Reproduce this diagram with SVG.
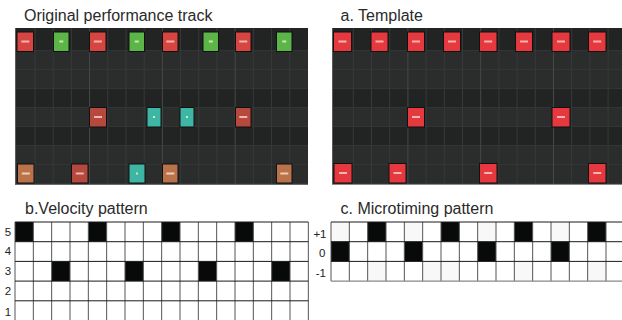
<svg xmlns="http://www.w3.org/2000/svg" width="622" height="320" viewBox="0 0 622 320">
<style>
.title{font-family:"Liberation Sans",Arial,sans-serif;font-size:16px;fill:#2a2a2a}
.lab{font-family:"Liberation Sans",Arial,sans-serif;font-size:11.5px;fill:#222}
.bg{fill:#2b2c2c}
.band{fill:#222323}
.vl{stroke:#38393a;stroke-width:1;fill:none}
.vl4{stroke:#474848;stroke-width:1;fill:none}
.hl{stroke:#333435;stroke-width:1;fill:none}
.n{stroke:#111;stroke-width:1}
.red{fill:#d64541}
.grn{fill:#5bb549}
.brn{fill:#b5493e}
.tea{fill:#3db6a6}
.org{fill:#b9724a}
.tr{fill:#e6393f}
.d1{fill:#f2b5ad}
.d2{fill:#f4cdb2}
.d3{fill:#cfe8a6}
.gh{stroke:#1a1a1a;stroke-width:1;fill:none}
.gv{stroke:#555;stroke-width:1;fill:none}
.blk{fill:#080909}
.fa{fill:#f8f8f8}
</style>
<rect width="622" height="320" fill="#fff"/>

<text class="title" x="24" y="20.5">Original performance track</text>
<text class="title" x="340.5" y="20.5">a. Template</text>
<text class="title" x="25" y="214">b.Velocity pattern</text>
<text class="title" x="340.5" y="214">c. Microtiming pattern</text>

<!-- Original performance track panel -->
<g id="original">
<rect class="bg" x="15" y="28" width="293" height="157"/>
<rect class="band" x="15" y="28" width="293" height="22"/>
<rect class="band" x="15" y="88" width="293" height="19"/>
<rect class="band" x="15" y="126" width="293" height="19"/>
<path class="hl" d="M15 50.5H308M15 69.5H308M15 88.5H308M15 107.5H308M15 126.5H308M15 145.5H308M15 164.5H308M15 183.5H308"/>
<path class="vl" d="M35 28V185M53.2 28V185M71.4 28V185M107.8 28V185M126 28V185M144.2 28V185M180.6 28V185M198.8 28V185M217 28V185M253.4 28V185M271.6 28V185M289.8 28V185"/>
<path class="vl4" d="M89.6 28V185M162.4 28V185M235.2 28V185"/>
<path d="M15.5 28V185" stroke="#5a5b5b" stroke-width="1"/>
<path d="M15 184.5H308" stroke="#6a6a6a" stroke-width="1"/>
<!-- row 0 -->
<rect class="n red" x="17" y="32" width="16.5" height="19.5"/><rect class="d1" x="21.3" y="40.5" width="8" height="2"/>
<rect class="n grn" x="53.5" y="32" width="15.5" height="19.5"/><rect class="d3" x="59.3" y="40.5" width="4" height="2"/>
<rect class="n red" x="89.5" y="32" width="16.5" height="19.5"/><rect class="d1" x="93.8" y="40.5" width="8" height="2"/>
<rect class="n grn" x="129" y="32" width="15.5" height="19.5"/><rect class="d3" x="134.8" y="40.5" width="4" height="2"/>
<rect class="n red" x="162.5" y="32" width="15.5" height="19.5"/><rect class="d1" x="166.3" y="40.5" width="8" height="2"/>
<rect class="n grn" x="203" y="32" width="15.5" height="19.5"/><rect class="d3" x="208.8" y="40.5" width="4" height="2"/>
<rect class="n red" x="235.5" y="32" width="15.5" height="19.5"/><rect class="d1" x="239.3" y="40.5" width="8" height="2"/>
<rect class="n grn" x="276.5" y="32" width="15.5" height="19.5"/><rect class="d3" x="282.3" y="40.5" width="4" height="2"/>
<!-- row 4 -->
<rect class="n brn" x="89.5" y="107.5" width="17" height="19.5"/><rect class="d1" x="94" y="116" width="8" height="2"/>
<rect class="n tea" x="147" y="107.5" width="14" height="19.5"/><rect class="d3" x="153" y="116" width="2" height="2"/>
<rect class="n tea" x="180" y="107.5" width="14" height="19.5"/><rect class="d3" x="186" y="116" width="2" height="2"/>
<rect class="n brn" x="235.5" y="107.5" width="15.5" height="19.5"/><rect class="d1" x="239.3" y="116" width="8" height="2"/>
<!-- row 7 -->
<rect class="n org" x="17.5" y="164" width="16.5" height="19"/><rect class="d2" x="21.8" y="172.5" width="8" height="2"/>
<rect class="n brn" x="71.5" y="164" width="16.5" height="19"/><rect class="d1" x="75.8" y="172.5" width="8" height="2"/>
<rect class="n tea" x="129" y="164" width="16" height="19"/><rect class="d3" x="136" y="172.5" width="2" height="2"/>
<rect class="n org" x="162.5" y="164" width="15.5" height="19"/><rect class="d2" x="166.3" y="172.5" width="8" height="2"/>
<rect class="n org" x="276.5" y="164" width="15.5" height="19"/><rect class="d2" x="280.3" y="172.5" width="8" height="2"/>
</g>

<!-- Template panel -->
<g id="template">
<rect class="bg" x="332" y="28" width="290" height="157"/>
<rect class="band" x="332" y="28" width="290" height="22"/>
<rect class="band" x="332" y="88" width="290" height="19"/>
<rect class="band" x="332" y="126" width="290" height="19"/>
<path class="hl" d="M332 50.5H622M332 69.5H622M332 88.5H622M332 107.5H622M332 126.5H622M332 145.5H622M332 164.5H622M332 183.5H622"/>
<path class="vl" d="M353.3 28V185M371.5 28V185M389.7 28V185M426.1 28V185M444.3 28V185M462.5 28V185M498.9 28V185M517.1 28V185M535.3 28V185M571.7 28V185M589.9 28V185M608.1 28V185"/>
<path class="vl4" d="M407.9 28V185M480.7 28V185M553.5 28V185"/>
<path d="M332.5 28V185" stroke="#5a5b5b" stroke-width="1"/>
<path d="M332 184.5H622" stroke="#8a8a8a" stroke-width="1"/>
<!-- row 0 -->
<rect class="n tr" x="333.5" y="32" width="18" height="19.5"/><rect class="d1" x="338.5" y="40.5" width="8" height="2"/>
<rect class="n tr" x="371" y="32" width="17" height="19.5"/><rect class="d1" x="375.5" y="40.5" width="8" height="2"/>
<rect class="n tr" x="407.5" y="32" width="17" height="19.5"/><rect class="d1" x="412" y="40.5" width="8" height="2"/>
<rect class="n tr" x="443.5" y="32" width="17" height="19.5"/><rect class="d1" x="448" y="40.5" width="8" height="2"/>
<rect class="n tr" x="479.5" y="32" width="17.5" height="19.5"/><rect class="d1" x="484.2" y="40.5" width="8" height="2"/>
<rect class="n tr" x="515.5" y="32" width="17" height="19.5"/><rect class="d1" x="520" y="40.5" width="8" height="2"/>
<rect class="n tr" x="552" y="32" width="18" height="19.5"/><rect class="d1" x="557" y="40.5" width="8" height="2"/>
<rect class="n tr" x="588.5" y="32" width="17.5" height="19.5"/><rect class="d1" x="593.2" y="40.5" width="8" height="2"/>
<!-- row 4 -->
<rect class="n tr" x="407.5" y="107.5" width="17" height="19.5"/><rect class="d1" x="412" y="116" width="8" height="2"/>
<rect class="n tr" x="552" y="107.5" width="18" height="19.5"/><rect class="d1" x="557" y="116" width="8" height="2"/>
<!-- row 7 -->
<rect class="n tr" x="334" y="163.5" width="18" height="19.5"/><rect class="d1" x="339" y="172" width="8" height="2"/>
<rect class="n tr" x="389" y="163.5" width="17" height="19.5"/><rect class="d1" x="393.5" y="172" width="8" height="2"/>
<rect class="n tr" x="479.5" y="163.5" width="17.5" height="19.5"/><rect class="d1" x="484.2" y="172" width="8" height="2"/>
<rect class="n tr" x="588.5" y="163.5" width="17.5" height="19.5"/><rect class="d1" x="593.2" y="172" width="8" height="2"/>
</g>

<!-- Velocity pattern grid -->
<g id="velocity">
<rect class="blk" x="15" y="222" width="18.33" height="19.7"/>
<rect class="blk" x="88.33" y="222" width="18.33" height="19.7"/>
<rect class="blk" x="161.67" y="222" width="18.33" height="19.7"/>
<rect class="blk" x="235" y="222" width="18.33" height="19.7"/>
<rect class="blk" x="51.67" y="261.4" width="18.33" height="19.7"/>
<rect class="blk" x="125" y="261.4" width="18.33" height="19.7"/>
<rect class="blk" x="198.33" y="261.4" width="18.33" height="19.7"/>
<rect class="blk" x="271.67" y="261.4" width="18.33" height="19.7"/>
<path class="gv" d="M15 222V320M33.33 222V320M51.67 222V320M70 222V320M88.33 222V320M106.67 222V320M125 222V320M143.33 222V320M161.67 222V320M180 222V320M198.33 222V320M216.67 222V320M235 222V320M253.33 222V320M271.67 222V320M290 222V320M308.33 222V320"/>
<path class="gh" d="M15 222H308.33M15 241.7H308.33M15 261.4H308.33M15 281.1H308.33M15 300.8H308.33"/>
<text class="lab" x="8" y="235.7" text-anchor="middle">5</text>
<text class="lab" x="8" y="255.3" text-anchor="middle">4</text>
<text class="lab" x="8" y="275" text-anchor="middle">3</text>
<text class="lab" x="8" y="294.8" text-anchor="middle">2</text>
<text class="lab" x="8" y="315.5" text-anchor="middle">1</text>
</g>

<!-- Microtiming pattern grid -->
<g id="microtiming">
<rect class="fa" x="331" y="222" width="18.33" height="19.7"/>
<rect class="fa" x="404.33" y="222" width="18.33" height="19.7"/>
<rect class="fa" x="477.67" y="222" width="18.33" height="19.7"/>
<rect class="fa" x="551" y="222" width="18.33" height="19.7"/>
<rect class="fa" x="367.67" y="261.4" width="18.33" height="19.7"/>
<rect class="fa" x="422.67" y="261.4" width="36.66" height="19.7"/>
<rect class="fa" x="514.33" y="261.4" width="18.33" height="19.7"/>
<rect class="fa" x="587.67" y="261.4" width="18.33" height="19.7"/>
<rect class="blk" x="367.67" y="222" width="18.33" height="19.7"/>
<rect class="blk" x="441" y="222" width="18.33" height="19.7"/>
<rect class="blk" x="514.33" y="222" width="18.33" height="19.7"/>
<rect class="blk" x="587.67" y="222" width="18.33" height="19.7"/>
<rect class="blk" x="331" y="241.7" width="18.33" height="19.7"/>
<rect class="blk" x="404.33" y="241.7" width="18.33" height="19.7"/>
<rect class="blk" x="477.67" y="241.7" width="18.33" height="19.7"/>
<rect class="blk" x="551" y="241.7" width="18.33" height="19.7"/>
<path class="gv" d="M331 222V281.1M349.33 222V281.1M367.67 222V281.1M386 222V281.1M404.33 222V281.1M422.67 222V281.1M441 222V281.1M459.33 222V281.1M477.67 222V281.1M496 222V281.1M514.33 222V281.1M532.67 222V281.1M551 222V281.1M569.33 222V281.1M587.67 222V281.1M606 222V281.1"/>
<path class="gh" d="M331 222H622M331 241.7H622M331 261.4H622"/>
<path d="M331 281.1H622" stroke="#888" stroke-width="1.2"/>
<text class="lab" x="326.5" y="238" text-anchor="end">+1</text>
<text class="lab" x="325.5" y="256.8" text-anchor="end">0</text>
<text class="lab" x="326" y="276.6" text-anchor="end">-1</text>
</g>
</svg>
